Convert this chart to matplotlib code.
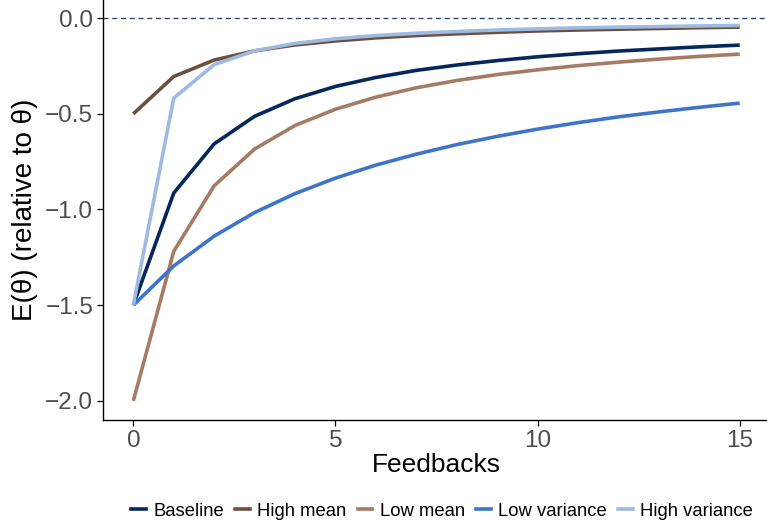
import matplotlib.pyplot as plt
from matplotlib.lines import Line2D

plt.rcParams["font.family"] = ["Liberation Sans", "DejaVu Sans"]

# expected estimate relative to the true value, per number of feedbacks
feedbacks = list(range(16))

baseline = [-1.50, -0.914, -0.657, -0.513, -0.421, -0.357, -0.310, -0.273,
            -0.245, -0.222, -0.202, -0.186, -0.172, -0.161, -0.150, -0.141]
high_mean = [-0.50, -0.305, -0.219, -0.171, -0.140, -0.119, -0.103, -0.091,
             -0.082, -0.074, -0.067, -0.062, -0.058, -0.054, -0.050, -0.047]
low_mean = [-2.00, -1.219, -0.876, -0.684, -0.561, -0.476, -0.413, -0.364,
            -0.326, -0.295, -0.270, -0.248, -0.230, -0.214, -0.200, -0.188]
low_variance = [-1.50, -1.295, -1.139, -1.016, -0.917, -0.836, -0.768, -0.711,
                -0.661, -0.618, -0.580, -0.546, -0.516, -0.490, -0.466, -0.444]
high_variance = [-1.50, -0.418, -0.243, -0.171, -0.132, -0.108, -0.091, -0.079,
                 -0.070, -0.062, -0.056, -0.051, -0.047, -0.044, -0.041, -0.038]

labels = ["Baseline", "High mean", "Low mean", "Low variance", "High variance"]
series = [baseline, high_mean, low_mean, low_variance, high_variance]
colors = ["#06275a", "#6b4f3f", "#a67b63", "#3f75c9", "#9dbae3"]

fig = plt.figure(figsize=(7.67, 5.22), dpi=100)
ax = fig.add_axes([103 / 767, 102 / 522, 667 / 767, 421 / 522])

ax.axhline(0, color="#1f3a6e", lw=0.9, ls=(0, (4, 3)), zorder=1)
for ys, c in zip(series, colors):
    ax.plot(feedbacks, ys, color=c, lw=2.6, solid_capstyle="butt", zorder=2)

ax.set_xlim(-0.75, 15.75)
ax.set_ylim(-2.1, 0.1)
ax.set_xticks([0, 5, 10, 15])
ax.set_yticks([0.0, -0.5, -1.0, -1.5, -2.0])
ax.set_yticklabels(["0.0", "\u22120.5", "\u22121.0", "\u22121.5", "\u22122.0"])

for side in ("top", "right"):
    ax.spines[side].set_visible(False)
for side in ("left", "bottom"):
    ax.spines[side].set_linewidth(1.0)
    ax.spines[side].set_color("black")
ax.tick_params(axis="both", length=4, width=0.9, color="black",
               labelsize=17.5, labelcolor="#4d4d4d", pad=3)

ax.set_xlabel("Feedbacks", fontsize=19, labelpad=1)
ax.set_ylabel("E(\u03b8) (relative to \u03b8)", fontsize=20, labelpad=5)

handles = [Line2D([0], [0], color=c, lw=2.6) for c in colors]
fig.legend(handles, labels, loc="center", bbox_to_anchor=(442 / 767, 11 / 522),
           ncol=5, frameon=False, fontsize=13.3, handlelength=0.8,
           handletextpad=0.4, columnspacing=0.6, borderaxespad=0)

fig.savefig("out.png", dpi=100)
